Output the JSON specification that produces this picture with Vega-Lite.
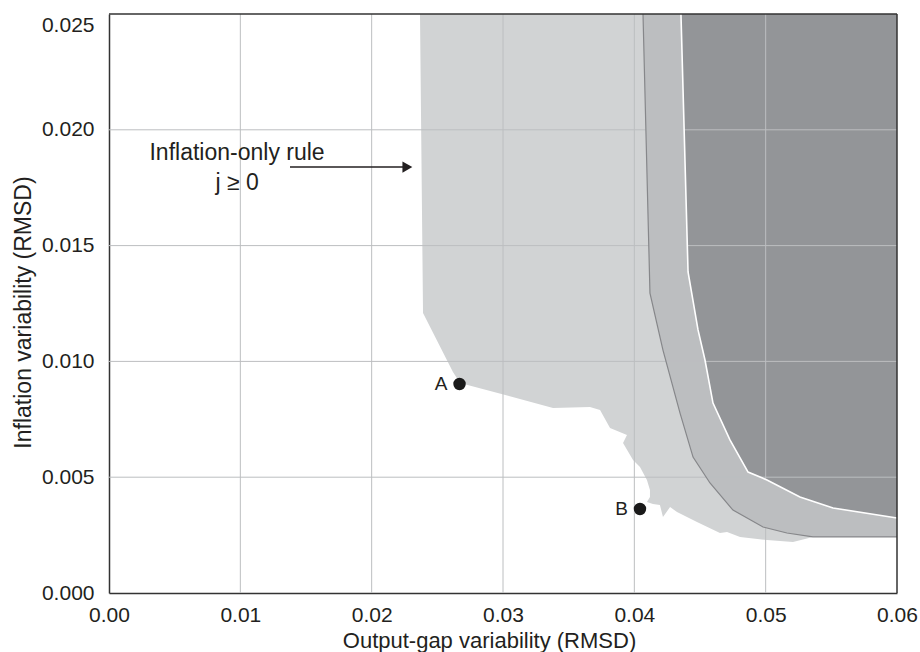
{
  "$schema": "https://vega.github.io/schema/vega-lite/v6.json",
  "width": 788,
  "height": 579,
  "autosize": {"type": "none"},
  "padding": {"left": 109, "top": 14, "right": 23, "bottom": 59},
  "background": "white",
  "config": {
    "font": "Liberation Sans",
    "view": {"stroke": null}
  },
  "datasets": {
    "light": [
      {"i": 1, "x": 0.02368, "y": 0.025},
      {"i": 2, "x": 0.02391, "y": 0.01209},
      {"i": 3, "x": 0.02619, "y": 0.00954},
      {"i": 4, "x": 0.02673, "y": 0.00907},
      {"i": 5, "x": 0.03381, "y": 0.00799},
      {"i": 6, "x": 0.03662, "y": 0.00803},
      {"i": 7, "x": 0.03739, "y": 0.0079},
      {"i": 8, "x": 0.03815, "y": 0.00712},
      {"i": 9, "x": 0.03944, "y": 0.00682},
      {"i": 10, "x": 0.03914, "y": 0.00648},
      {"i": 11, "x": 0.0399, "y": 0.00574},
      {"i": 12, "x": 0.04043, "y": 0.00544},
      {"i": 13, "x": 0.04096, "y": 0.00488},
      {"i": 14, "x": 0.04119, "y": 0.00445},
      {"i": 15, "x": 0.04119, "y": 0.00415},
      {"i": 16, "x": 0.04096, "y": 0.00393},
      {"i": 17, "x": 0.04142, "y": 0.00384},
      {"i": 18, "x": 0.04195, "y": 0.0038},
      {"i": 19, "x": 0.04218, "y": 0.00328},
      {"i": 20, "x": 0.04272, "y": 0.00371},
      {"i": 21, "x": 0.04325, "y": 0.0035},
      {"i": 22, "x": 0.04477, "y": 0.00307},
      {"i": 23, "x": 0.04652, "y": 0.00259},
      {"i": 24, "x": 0.04706, "y": 0.00263},
      {"i": 25, "x": 0.04805, "y": 0.00242},
      {"i": 26, "x": 0.0501, "y": 0.00229},
      {"i": 27, "x": 0.05208, "y": 0.0022},
      {"i": 28, "x": 0.0536, "y": 0.00242},
      {"i": 29, "x": 0.06, "y": 0.00242},
      {"i": 30, "x": 0.06, "y": 0.025}
    ],
    "band": [
      {"i": 1, "x": 0.04066, "y": 0.025, "edge": true},
      {"i": 2, "x": 0.04119, "y": 0.01295, "edge": true},
      {"i": 3, "x": 0.04218, "y": 0.01049, "edge": true},
      {"i": 4, "x": 0.04348, "y": 0.00777, "edge": true},
      {"i": 5, "x": 0.04447, "y": 0.00587, "edge": true},
      {"i": 6, "x": 0.04576, "y": 0.00475, "edge": true},
      {"i": 7, "x": 0.04751, "y": 0.00358, "edge": true},
      {"i": 8, "x": 0.0498, "y": 0.00285, "edge": true},
      {"i": 9, "x": 0.05162, "y": 0.00259, "edge": true},
      {"i": 10, "x": 0.0536, "y": 0.00242, "edge": true},
      {"i": 11, "x": 0.06, "y": 0.00242, "edge": true},
      {"i": 12, "x": 0.06, "y": 0.025, "edge": false}
    ],
    "dark": [
      {"i": 1, "x": 0.04355, "y": 0.025, "edge": true},
      {"i": 2, "x": 0.04409, "y": 0.01386, "edge": true},
      {"i": 3, "x": 0.04485, "y": 0.01136, "edge": true},
      {"i": 4, "x": 0.04538, "y": 0.01006, "edge": true},
      {"i": 5, "x": 0.04599, "y": 0.0082, "edge": true},
      {"i": 6, "x": 0.04728, "y": 0.00661, "edge": true},
      {"i": 7, "x": 0.04866, "y": 0.00522, "edge": true},
      {"i": 8, "x": 0.0501, "y": 0.00488, "edge": true},
      {"i": 9, "x": 0.05261, "y": 0.00415, "edge": true},
      {"i": 10, "x": 0.05513, "y": 0.00367, "edge": true},
      {"i": 11, "x": 0.06, "y": 0.00324, "edge": true},
      {"i": 12, "x": 0.06, "y": 0.025, "edge": false}
    ],
    "gridx": [{"x": 0.01}, {"x": 0.02}, {"x": 0.03}, {"x": 0.04}, {"x": 0.05}],
    "gridy": [{"y": 0.005}, {"y": 0.01}, {"y": 0.015}, {"y": 0.02}],
    "points": [
      {"x": 0.02669, "y": 0.009024, "label": "A"},
      {"x": 0.04043, "y": 0.003627, "label": "B"}
    ],
    "note": [
      {"x": 0.00975, "y": 0.018696, "text": "Inflation-only rule"},
      {"x": 0.00975, "y": 0.017401, "text": "j ≥ 0"}
    ],
    "arrow": [{"x": 0.01378, "x2": 0.0225, "y": 0.01839, "tip": 0.02272}]
  },
  "layer": [
    {
      "data": {"name": "light"},
      "mark": {"type": "line", "fill": "#d1d3d4", "strokeWidth": 0, "strokeOpacity": 0},
      "encoding": {
        "x": {
          "field": "x", "type": "quantitative",
          "scale": {"domain": [0, 0.06], "nice": false, "zero": false},
          "axis": {
            "title": "Output-gap variability (RMSD)",
            "values": [0, 0.01, 0.02, 0.03, 0.04, 0.05, 0.06],
            "format": ".2f",
            "grid": false, "ticks": false, "tickSize": 0,
            "labelFontSize": 21, "labelPadding": 28, "labelBaseline": "alphabetic",
            "labelColor": "#231f20", "labelFlush": false, "labelOverlap": false,
            "titleFontSize": 22, "titleFontWeight": "normal", "titleColor": "#231f20",
            "titleX": 380, "titleY": 54, "titleBaseline": "alphabetic", "titleAlign": "center",
            "domainColor": "#333333", "domainWidth": 1.5
          }
        },
        "y": {
          "field": "y", "type": "quantitative",
          "scale": {"domain": [0, 0.025], "nice": false, "zero": false},
          "axis": {
            "title": "Inflation variability (RMSD)",
            "values": [0, 0.005, 0.01, 0.015, 0.02, 0.025],
            "format": ".3f",
            "grid": false, "ticks": false, "tickSize": 0,
            "labelFontSize": 21, "labelPadding": 15,
            "labelBaseline": {"condition": {"test": "datum.value >= 0.0249", "value": "top"}, "value": "middle"},
            "labelColor": "#231f20", "labelFlush": false, "labelOverlap": false,
            "titleFontSize": 23, "titleFontWeight": "normal", "titleColor": "#231f20",
            "titleX": -79, "titleY": 298, "titleBaseline": "alphabetic", "titleAlign": "center", "titleAngle": 270,
            "domainColor": "#333333", "domainWidth": 1.5
          }
        },
        "order": {"field": "i", "type": "quantitative"}
      }
    },
    {
      "data": {"name": "band"},
      "mark": {"type": "line", "fill": "#bcbec0", "strokeWidth": 0, "strokeOpacity": 0},
      "encoding": {
        "x": {"field": "x", "type": "quantitative"},
        "y": {"field": "y", "type": "quantitative"},
        "order": {"field": "i", "type": "quantitative"}
      }
    },
    {
      "data": {"name": "dark"},
      "mark": {"type": "line", "fill": "#939598", "strokeWidth": 0, "strokeOpacity": 0},
      "encoding": {
        "x": {"field": "x", "type": "quantitative"},
        "y": {"field": "y", "type": "quantitative"},
        "order": {"field": "i", "type": "quantitative"}
      }
    },
    {
      "data": {"name": "gridx"},
      "mark": {"type": "rule", "stroke": "#bcbec0", "strokeWidth": 1},
      "encoding": {"x": {"field": "x", "type": "quantitative"}}
    },
    {
      "data": {"name": "gridy"},
      "mark": {"type": "rule", "stroke": "#bcbec0", "strokeWidth": 1},
      "encoding": {"y": {"field": "y", "type": "quantitative"}}
    },
    {
      "data": {"name": "band"},
      "transform": [{"filter": "datum.edge"}],
      "mark": {"type": "line", "stroke": "#86878a", "strokeWidth": 1.2},
      "encoding": {
        "x": {"field": "x", "type": "quantitative"},
        "y": {"field": "y", "type": "quantitative"},
        "order": {"field": "i", "type": "quantitative"}
      }
    },
    {
      "data": {"name": "dark"},
      "transform": [{"filter": "datum.edge"}],
      "mark": {"type": "line", "stroke": "#ffffff", "strokeWidth": 1.6},
      "encoding": {
        "x": {"field": "x", "type": "quantitative"},
        "y": {"field": "y", "type": "quantitative"},
        "order": {"field": "i", "type": "quantitative"}
      }
    },
    {
      "data": {"values": [{"x": 0.06}]},
      "mark": {"type": "rule", "stroke": "#333333", "strokeWidth": 1.5},
      "encoding": {"x": {"field": "x", "type": "quantitative"}}
    },
    {
      "data": {"values": [{"y": 0.025}]},
      "mark": {"type": "rule", "stroke": "#333333", "strokeWidth": 1.5},
      "encoding": {"y": {"field": "y", "type": "quantitative"}}
    },
    {
      "data": {"name": "arrow"},
      "mark": {"type": "rule", "stroke": "#231f20", "strokeWidth": 1.5},
      "encoding": {
        "x": {"field": "x", "type": "quantitative"},
        "x2": {"field": "x2"},
        "y": {"field": "y", "type": "quantitative"}
      }
    },
    {
      "data": {"name": "arrow"},
      "mark": {"type": "point", "shape": "triangle-right", "filled": true, "fill": "#231f20", "size": 130, "opacity": 1},
      "encoding": {
        "x": {"field": "tip", "type": "quantitative"},
        "y": {"field": "y", "type": "quantitative"}
      }
    },
    {
      "data": {"name": "note"},
      "mark": {"type": "text", "fontSize": 23, "align": "center", "baseline": "alphabetic", "color": "#231f20"},
      "encoding": {
        "x": {"field": "x", "type": "quantitative"},
        "y": {"field": "y", "type": "quantitative"},
        "text": {"field": "text"}
      }
    },
    {
      "data": {"name": "points"},
      "mark": {"type": "circle", "size": 154, "color": "#1a1a1a", "opacity": 1},
      "encoding": {
        "x": {"field": "x", "type": "quantitative"},
        "y": {"field": "y", "type": "quantitative"}
      }
    },
    {
      "data": {"name": "points"},
      "mark": {"type": "text", "fontSize": 19, "align": "right", "baseline": "middle", "dx": -12, "color": "#231f20"},
      "encoding": {
        "x": {"field": "x", "type": "quantitative"},
        "y": {"field": "y", "type": "quantitative"},
        "text": {"field": "label"}
      }
    }
  ]
}
